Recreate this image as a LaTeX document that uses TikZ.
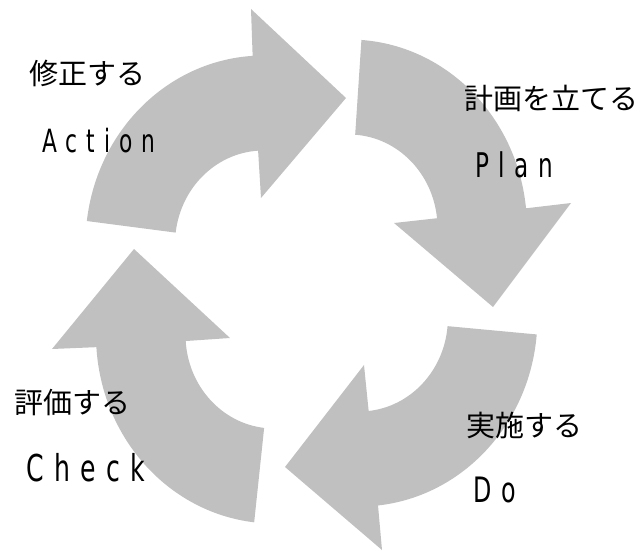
\documentclass[tikz,border=0pt]{standalone}
\usepackage{fontspec}
\usetikzlibrary{calc}
\newfontfamily\jpfont{Noto Sans CJK JP}
\newfontfamily\enfont[FakeStretch=0.68,LetterSpace=28]{DejaVu Sans}
\definecolor{arwbg}{RGB}{192,192,192}
\tikzset{pdp/.style={
  x=1pt,
  y=-1pt
}}
\tikzset{arw/.style={
  fill=arwbg,
}}
\tikzset{jpn/.style={font=\jpfont\fontsize{29}{29}\selectfont,inner sep=0pt,anchor=west}}
\tikzset{enn/.style={inner sep=0pt,anchor=base west}}

\begin{document}
\begin{tikzpicture}[pdp]
    \useasboundingbox (0,0) rectangle (640,551);
    \coordinate (ca) at (263.5,244);
    \coordinate (cp) at (349,228);
    \coordinate (cd) at (359.4,318);
    \coordinate (cc) at (274,335);

    % Action arrow
    \fill[arw] ($(ca)+(187:178 and 188.5)$)
      arc[start angle=187,end angle=266.5,x radius=178,y radius=188.5]
      -- (251,9) -- (346,98) -- (261,198)
      -- ($(ca)+(266.5:88.5 and 93.5)$)
      arc[start angle=266.5,end angle=187,x radius=88.5,y radius=93.5] -- cycle;

    % Plan arrow
    \fill[arw] ($(cp)+(274:178 and 188.5)$)
      arc[start angle=274,end angle=354,x radius=178,y radius=188.5]
      -- (571,203) -- (493,307) -- (394,223)
      -- ($(cp)+(354:88.5 and 93.5)$)
      arc[start angle=354,end angle=274,x radius=88.5,y radius=93.5] -- cycle;

    % Do arrow
    \fill[arw] ($(cd)+(5:178 and 188.5)$)
      arc[start angle=5,end angle=84,x radius=178,y radius=188.5]
      -- (382,550) -- (285,467) -- (364,365)
      -- ($(cd)+(84:88.5 and 93.5)$)
      arc[start angle=84,end angle=5,x radius=88.5,y radius=93.5] -- cycle;

    % Check arrow
    \fill[arw] ($(cc)+(96.4:178 and 188.5)$)
      arc[start angle=96.4,end angle=176.3,x radius=178,y radius=188.5]
      -- (52,349) -- (134,249) -- (230,338)
      -- ($(cc)+(176.3:88.5 and 93.5)$)
      arc[start angle=176.3,end angle=96.4,x radius=88.5,y radius=93.5] -- cycle;

    % labels
    \node[jpn] (actjp) at (29,73) {修正する};
    \node[enn,font=\enfont\fontsize{32}{32}\selectfont] (acten) at (42,152) {Action};
    \node[jpn] (plajp) at (464,98) {計画を立てる};
    \node[enn,font=\enfont\fontsize{34}{34}\selectfont] (plaen) at (475,177) {Plan};
    \node[jpn] (chkjp) at (14,403) {評価する};
    \node[enn,font=\enfont\fontsize{37}{37}\selectfont] (chken) at (26,481) {Check};
    \node[jpn] (dojp) at (466,425.5) {実施する};
    \node[enn,font=\enfont\fontsize{35}{35}\selectfont] (doen) at (473,502) {Do};
\end{tikzpicture}
\end{document}
